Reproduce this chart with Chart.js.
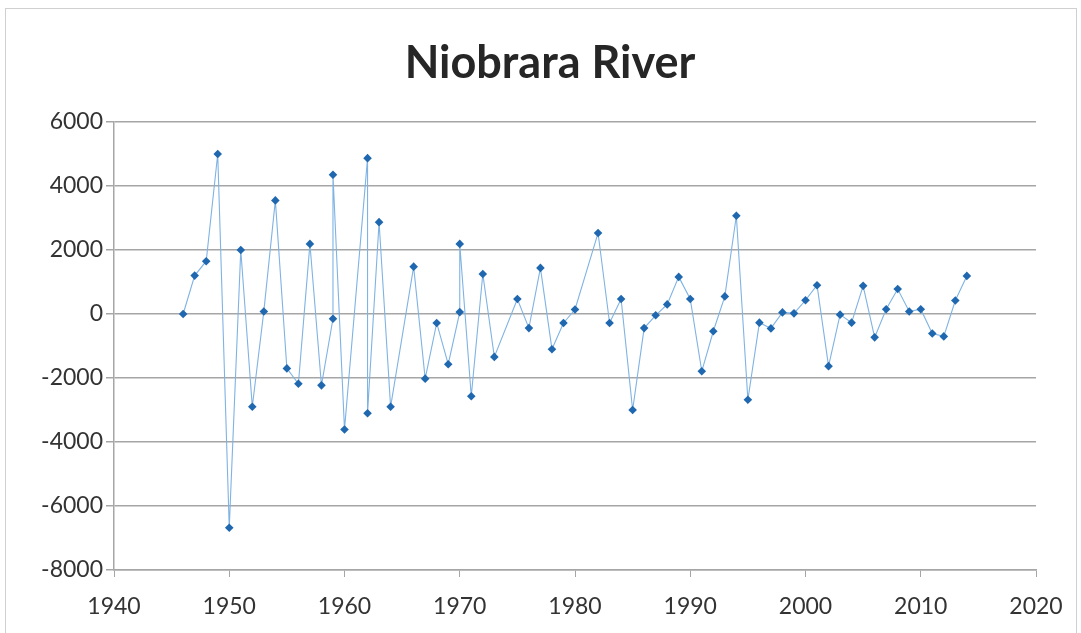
<!DOCTYPE html>
<html>
<head>
<meta charset="utf-8">
<script src="https://cdn.jsdelivr.net/npm/chart.js@4"></script>
<style>
    html, body { margin: 0; padding: 0; background: #fff; }
    #wrap { width: 1081px; height: 633px; }
</style>
</head>
<body>
<div id="wrap"><canvas id="chartNiobrara" width="1081" height="633"></canvas></div>
<script>
// ====================================
// NIOBRARA RIVER - scatter con linee
// ====================================

const titolo = 'Niobrara River';

// anni (alcuni anni compaiono due volte, altri mancano)
const anni = [
    1946, 1947, 1948, 1949, 1950, 1951, 1952, 1953, 1954, 1955,
    1956, 1957, 1958, 1959, 1959, 1960, 1962, 1962, 1963, 1964,
    1966, 1967, 1968, 1969, 1970, 1970, 1971, 1972, 1973, 1975,
    1976, 1977, 1978, 1979, 1980, 1982, 1983, 1984, 1985, 1986,
    1987, 1988, 1989, 1990, 1991, 1992, 1993, 1994, 1995, 1996,
    1997, 1998, 1999, 2000, 2001, 2002, 2003, 2004, 2005, 2006,
    2007, 2008, 2009, 2010, 2011, 2012, 2013, 2014
];

const valori = [
    0, 1200, 1650, 5000, -6680, 2000, -2900, 80, 3550, -1700,
    -2180, 2190, -2230, -150, 4350, -3610, 4870, -3100, 2870, -2900,
    1480, -2020, -280, -1570, 60, 2190, -2570, 1250, -1340, 470,
    -440, 1440, -1100, -280, 140, 2530, -280, 470, -3000, -440,
    -40, 300, 1160, 470, -1790, -540, 550, 3070, -2680, -270,
    -450, 50, 20, 430, 900, -1630, -20, -270, 880, -730,
    150, 780, 80, 150, -610, -700, 420, 1190
];

const tickX = [1940, 1950, 1960, 1970, 1980, 1990, 2000, 2010, 2020];
const tickY = [-8000, -6000, -4000, -2000, 0, 2000, 4000, 6000];

const FONT = "Lato, 'Open Sans', sans-serif";

// sfondo e bordo esterno
const bordoPlugin = {
    id: 'bordo',
    beforeDraw(chart) {
        const ctx = chart.ctx;
        ctx.save();
        ctx.fillStyle = '#ffffff';
        ctx.fillRect(0, 0, chart.width, chart.height);
        ctx.strokeStyle = '#d0d0d0';
        ctx.lineWidth = 1;
        ctx.strokeRect(5.5, 8.5, chart.width - 10, chart.height + 10);
        ctx.restore();
    }
};

// sposta il titolo un po' a destra, come nell'originale
const titoloPlugin = {
    id: 'spostaTitolo',
    afterLayout(chart) {
        if (chart.titleBlock) {
            chart.titleBlock.left = 64;
            chart.titleBlock.right = chart.chartArea.right;
        }
    }
};

const punti = anni.map((a, i) => ({ x: a, y: valori[i] }));

new Chart(document.getElementById('chartNiobrara'), {
    type: 'scatter',
    data: {
        datasets: [{
            data: punti,
            showLine: true,
            borderColor: '#7fb3e3',
            borderWidth: 1.1,
            pointStyle: 'rectRot',
            pointRadius: 4.3,
            pointBackgroundColor: '#1f68b0',
            pointBorderColor: '#1f68b0',
            pointBorderWidth: 0,
            tension: 0
        }]
    },
    options: {
        responsive: false,
        animation: false,
        layout: {
            padding: { top: 0, left: 0, right: 45, bottom: 0 }
        },
        plugins: {
            legend: { display: false },
            tooltip: { enabled: false },
            title: {
                display: true,
                text: titolo,
                color: '#262626',
                font: { family: FONT, size: 45, weight: 'bold' },
                padding: { top: 36, bottom: 32 }
            }
        },
        scales: {
            x: {
                type: 'linear',
                min: tickX[0],
                max: tickX[tickX.length - 1],
                afterBuildTicks: (scale) => { scale.ticks = tickX.map(v => ({ value: v })); },
                afterFit: (scale) => { scale.height = 63; },
                grid: {
                    drawOnChartArea: false,
                    drawTicks: true,
                    tickLength: 7,
                    color: '#a6a6a6'
                },
                border: { color: '#a6a6a6', width: 1.5 },
                ticks: {
                    color: '#333333',
                    font: { family: FONT, size: 23 },
                    padding: 16,
                    maxRotation: 0,
                    callback: (v) => String(v)
                }
            },
            y: {
                type: 'linear',
                min: tickY[0],
                max: tickY[tickY.length - 1],
                afterBuildTicks: (scale) => { scale.ticks = tickY.map(v => ({ value: v })); },
                afterFit: (scale) => { scale.width = 114; },
                grid: {
                    color: '#a6a6a6',
                    lineWidth: 1.5,
                    tickLength: 8
                },
                border: { color: '#a6a6a6', width: 1.5 },
                ticks: {
                    color: '#333333',
                    font: { family: FONT, size: 23 },
                    padding: 3,
                    callback: (v) => String(v)
                }
            }
        }
    },
    plugins: [bordoPlugin, titoloPlugin]
});
</script>
</body>
</html>
